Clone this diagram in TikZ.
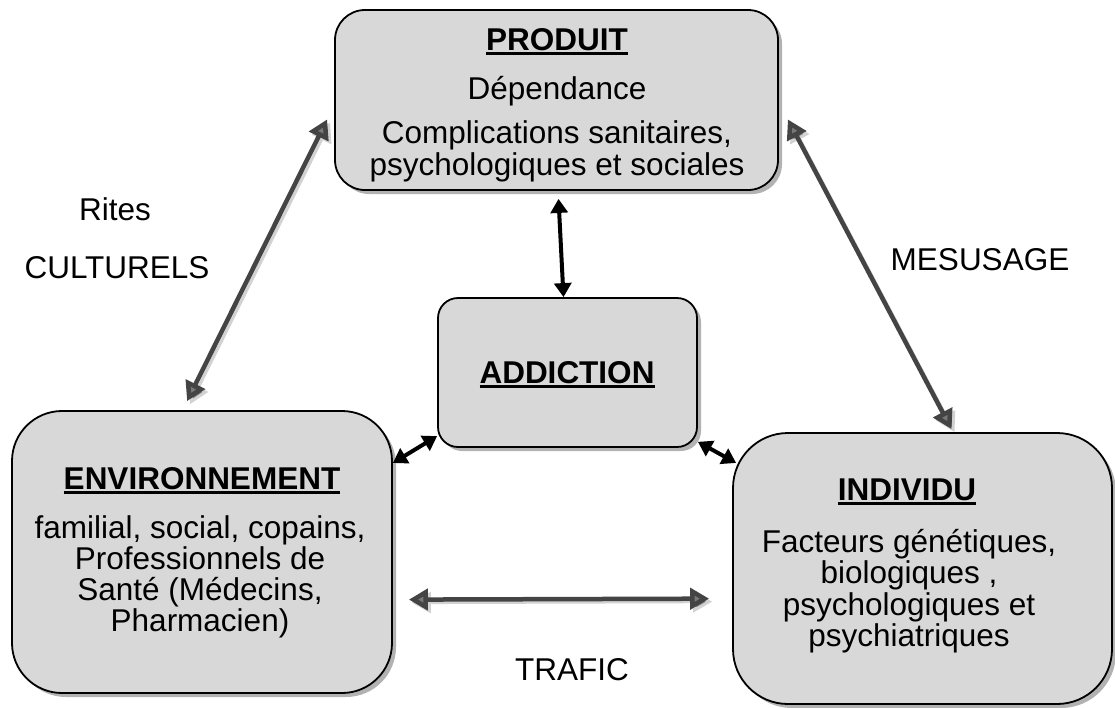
\documentclass[tikz,border=0pt]{standalone}
\usepackage{fontspec}
\setmainfont{Liberation Sans}
\usetikzlibrary{arrows.meta,shadows}
\definecolor{boxfill}{RGB}{216,216,216}
\definecolor{linkgray}{RGB}{68,68,68}
\definecolor{headgray}{RGB}{120,120,120}
% bold, underlined box title
\newcommand\headline[1]{\setbox0\hbox{\bfseries #1}\rlap{\rule[-5pt]{\wd0}{2.8pt}}\box0}

\begin{document}
\begin{tikzpicture}[x=1pt,y=-1pt,
  panel/.style={draw=black, line width=1.8pt, fill=boxfill, inner sep=0pt,
    drop shadow={shadow xshift=4pt, shadow yshift=-4pt, fill=black, opacity=0.3}},
  txt/.style={anchor=base, inner sep=0pt, font=\fontsize{31.5}{31.5}\selectfont},
  link/.style={line width=4pt, draw=black,
    {Triangle[length=14pt,width=17pt]}-{Triangle[length=14pt,width=17pt]}},
  glink/.style={line width=4.5pt, draw=linkgray,
    {Triangle[length=19pt,width=21pt,fill=headgray]}-{Triangle[length=19pt,width=21pt,fill=headgray]},
    preaction={draw=gray!35, line width=3pt, transform canvas={shift={(3pt,-3pt)}}}}
]
\fill[white] (0,0) rectangle (1115,707);
\useasboundingbox (0,0) rectangle (1115,707);

% boxes
\node[panel, rounded corners=30pt, minimum width=443pt, minimum height=180pt] (produit) at (556.5,100) {};
\node[panel, rounded corners=20pt, minimum width=259pt, minimum height=149pt] (addiction) at (567.5,372.5) {};
\node[panel, rounded corners=50pt, minimum width=380pt, minimum height=282pt] (env) at (202,552) {};
\node[panel, rounded corners=55pt, minimum width=379pt, minimum height=271pt] (individu) at (922.5,568.5) {};

% box texts
\node[txt] (produit-t) at (557,50) {\headline{PRODUIT}};
\node[txt] (produit-1) at (557,99) {Dépendance};
\node[txt] (produit-2) at (557,143) {Complications sanitaires,};
\node[txt] (produit-3) at (557,175) {psychologiques et sociales};

\node[txt] (addiction-t) at (567,383) {\headline{ADDICTION}};

\node[txt] (env-t) at (202,489) {\headline{ENVIRONNEMENT}};
\node[txt] (env-1) at (200,538) {familial, social, copains,};
\node[txt] (env-2) at (200,569) {Professionnels de};
\node[txt] (env-3) at (200,600) {Santé (Médecins,};
\node[txt] (env-4) at (200,631) {Pharmacien)};

\node[txt] (individu-t) at (907,500) {\headline{INDIVIDU}};
\node[txt] (individu-1) at (909,552) {Facteurs génétiques,};
\node[txt] (individu-2) at (909,583) {biologiques ,};
\node[txt] (individu-3) at (909,615) {psychologiques et};
\node[txt] (individu-4) at (909,646) {psychiatriques};

% link labels
\node[txt] (rites) at (115,220) {Rites};
\node[txt] (culturels) at (117,278) {CULTURELS};
\node[txt] (mesusage) at (980,270) {MESUSAGE};
\node[txt] (trafic) at (572,680) {TRAFIC};

% links
\draw[link] ([xshift=2pt,yshift=-8pt]produit.south) -- ([xshift=-4pt]addiction.north);
\draw[link] (env.25.8) -- (addiction.206.5);
\draw[link] (addiction.-28.4) -- ([xshift=4pt]individu.151.8);
\draw[glink] ([xshift=-7pt]produit.185.7) -- ([yshift=9pt]env.96.5);
\draw[glink] ([xshift=9pt]produit.-5) -- ([yshift=3pt]individu.78);
\draw[glink] ([xshift=16pt]env.-14.2) -- ([xshift=-23pt]individu.189.4);
\end{tikzpicture}
\end{document}
